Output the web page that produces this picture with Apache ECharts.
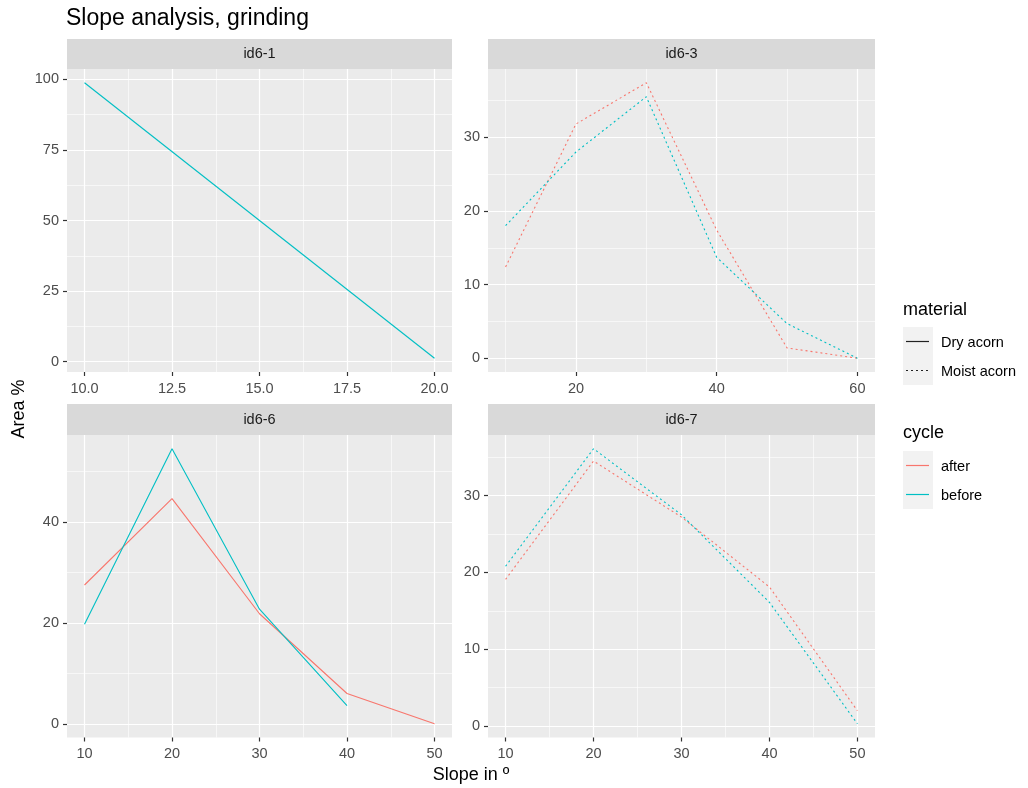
<!DOCTYPE html>
<html>
<head>
<meta charset="utf-8">
<script src="https://cdn.jsdelivr.net/npm/echarts@6/dist/echarts.min.js"></script>
<style>
html,body{margin:0;padding:0;background:#fff;}
#chart{width:1028px;height:788px;}
</style>
</head>
<body>
<div id="chart"></div>
<script>
// ---------- data ----------
const panelNames = ['id6-1', 'id6-3', 'id6-6', 'id6-7'];
const panelMaterial = ['Dry acorn', 'Moist acorn', 'Dry acorn', 'Moist acorn'];

const x_id61 = [10, 20];
const after_id61 = [];
const before_id61 = [98.8, 1.2];

const x_id63 = [10, 20, 30, 40, 50, 60];
const after_id63 = [12.4, 31.8, 37.4, 17.4, 1.4, 0];
const before_id63 = [18.0, 28.0, 35.5, 13.7, 4.7, 0];

const x_id66 = [10, 20, 30, 40, 50];
const after_id66 = [27.5, 44.6, 21.8, 6.0, 0];
const before_id66 = [19.7, 54.5, 22.7, 3.6];

const x_id67 = [10, 20, 30, 40, 50];
const after_id67 = [19.1, 34.5, 27.2, 18.1, 2.0];
const before_id67 = [20.8, 36.1, 27.5, 16.1, 0.3];

// tick labels / breaks
const xTicks_id61 = [10, 12.5, 15, 17.5, 20];
const xMinor_id61 = [11.25, 13.75, 16.25, 18.75];
const yTicks_id61 = [0, 25, 50, 75, 100];
const yMinor_id61 = [12.5, 37.5, 62.5, 87.5];

const xTicks_id63 = [20, 40, 60];
const xMinor_id63 = [10, 30, 50];
const yTicks_id63 = [0, 10, 20, 30];
const yMinor_id63 = [5, 15, 25, 35];

const xTicks_id66 = [10, 20, 30, 40, 50];
const xMinor_id66 = [15, 25, 35, 45];
const yTicks_id66 = [0, 20, 40];
const yMinor_id66 = [10, 30, 50];

const xTicks_id67 = [10, 20, 30, 40, 50];
const xMinor_id67 = [15, 25, 35, 45];
const yTicks_id67 = [0, 10, 20, 30];
const yMinor_id67 = [5, 15, 25, 35];

const xDecimals = [1, 0, 0, 0];

// ---------- layout / style ----------
const FONT = "'Liberation Sans', Arial, Helvetica, sans-serif";
const COL_AFTER = '#F8766D';
const COL_BEFORE = '#00BFC4';
const panelBoxes = [
  {left: 67, top: 69, width: 385, height: 303, stripTop: 39},
  {left: 488, top: 69, width: 387, height: 303, stripTop: 39},
  {left: 67, top: 435, width: 385, height: 302.5, stripTop: 404},
  {left: 488, top: 435, width: 387, height: 302.5, stripTop: 404}
];

const panels = [
  {x: x_id61, after: after_id61, before: before_id61, xt: xTicks_id61, xm: xMinor_id61, yt: yTicks_id61, ym: yMinor_id61},
  {x: x_id63, after: after_id63, before: before_id63, xt: xTicks_id63, xm: xMinor_id63, yt: yTicks_id63, ym: yMinor_id63},
  {x: x_id66, after: after_id66, before: before_id66, xt: xTicks_id66, xm: xMinor_id66, yt: yTicks_id66, ym: yMinor_id66},
  {x: x_id67, after: after_id67, before: before_id67, xt: xTicks_id67, xm: xMinor_id67, yt: yTicks_id67, ym: yMinor_id67}
];

function expandRange(vals) {
  const mn = Math.min(...vals), mx = Math.max(...vals);
  const pad = (mx - mn) * 0.05;
  return [mn - pad, mx + pad];
}

const grids = [], xAxes = [], yAxes = [], series = [], graphics = [];

panels.forEach((p, i) => {
  const b = panelBoxes[i];
  grids.push({left: b.left, top: b.top, width: b.width, height: b.height,
    show: true, backgroundColor: '#EBEBEB', borderWidth: 0, containLabel: false, outerBoundsMode: 'none'});
  const xr = expandRange(p.x);
  const yr = expandRange(p.after.concat(p.before));
  const dec = xDecimals[i];
  // major x
  xAxes.push({
    type: 'value', gridIndex: i, min: xr[0], max: xr[1], position: 'bottom',
    axisLine: {show: false, onZero: false},
    axisTick: {show: true, inside: false, length: 4, customValues: p.xt, lineStyle: {color: '#333333', width: 1.2}},
    axisLabel: {show: true, inside: false, customValues: p.xt, margin: 9, color: '#4D4D4D', fontSize: 14.5, fontFamily: FONT,
      formatter: v => Number(v).toFixed(dec)},
    splitLine: {show: true, lineStyle: {color: '#FFFFFF', width: 1.2}},
    minorSplitLine: {show: false}
  });
  // minor x
  xAxes.push({
    type: 'value', gridIndex: i, min: xr[0], max: xr[1], position: 'top',
    axisLine: {show: false, onZero: false},
    axisTick: {show: false, customValues: p.xm},
    axisLabel: {show: false, customValues: p.xm},
    splitLine: {show: true, lineStyle: {color: '#FFFFFF', width: 0.6}}
  });
  // major y
  yAxes.push({
    type: 'value', gridIndex: i, min: yr[0], max: yr[1], position: 'left',
    axisLine: {show: false, onZero: false},
    axisTick: {show: true, inside: false, length: 4, customValues: p.yt, lineStyle: {color: '#333333', width: 1.2}},
    axisLabel: {show: true, inside: false, customValues: p.yt, margin: 8, color: '#4D4D4D', fontSize: 14.5, fontFamily: FONT},
    splitLine: {show: true, lineStyle: {color: '#FFFFFF', width: 1.2}}
  });
  // minor y
  yAxes.push({
    type: 'value', gridIndex: i, min: yr[0], max: yr[1], position: 'right',
    axisLine: {show: false, onZero: false},
    axisTick: {show: false, customValues: p.ym},
    axisLabel: {show: false, customValues: p.ym},
    splitLine: {show: true, lineStyle: {color: '#FFFFFF', width: 0.6}}
  });

  const dotted = panelMaterial[i] === 'Moist acorn';
  const lt = dotted ? [2, 3] : 'solid';
  [['after', p.after, COL_AFTER], ['before', p.before, COL_BEFORE]].forEach(([name, vals, col]) => {
    if (!vals.length) return;
    series.push({
      type: 'line', name: name, xAxisIndex: i * 2, yAxisIndex: i * 2,
      data: vals.map((v, k) => [p.x[k], v]),
      showSymbol: false, symbol: 'none', silent: true, animation: false,
      lineStyle: {color: col, width: 1.1, type: lt},
      itemStyle: {color: col}, z: 5
    });
  });

  // strip
  graphics.push({type: 'rect', shape: {x: b.left, y: b.stripTop, width: b.width, height: b.top - b.stripTop},
    style: {fill: '#D9D9D9'}, silent: true});
  graphics.push({type: 'text', x: b.left + b.width / 2, y: (b.stripTop + b.top) / 2,
    style: {text: panelNames[i], fill: '#1A1A1A', font: '14.5px ' + FONT, textAlign: 'center', textVerticalAlign: 'middle'},
    silent: true});
});

// axis titles
graphics.push({type: 'text', x: 19, y: 409, rotation: Math.PI / 2,
  style: {text: 'Area %', fill: '#000', font: '18px ' + FONT, textAlign: 'center', textVerticalAlign: 'middle'}});
graphics.push({type: 'text', x: 471, y: 775,
  style: {text: 'Slope in º', fill: '#000', font: '18px ' + FONT, textAlign: 'center', textVerticalAlign: 'middle'}});

// legends
function legendBlock(title, titleY, boxY, items) {
  graphics.push({type: 'text', x: 903, y: titleY,
    style: {text: title, fill: '#000', font: '18px ' + FONT, textAlign: 'left', textVerticalAlign: 'middle'}});
  graphics.push({type: 'rect', shape: {x: 903, y: boxY, width: 30, height: 29 * items.length},
    style: {fill: '#F2F2F2'}});
  items.forEach((it, k) => {
    const cy = boxY + 14.5 + 29 * k;
    graphics.push({type: 'line', shape: {x1: 906, y1: cy, x2: 929, y2: cy},
      style: {stroke: it.color, lineWidth: 1.2, lineDash: it.dash || null}});
    graphics.push({type: 'text', x: 941, y: cy + 1,
      style: {text: it.label, fill: '#000', font: '14.5px ' + FONT, textAlign: 'left', textVerticalAlign: 'middle'}});
  });
}
legendBlock('material', 310, 327, [
  {label: 'Dry acorn', color: '#222222'},
  {label: 'Moist acorn', color: '#222222', dash: [2, 3]}
]);
legendBlock('cycle', 433, 451, [
  {label: 'after', color: COL_AFTER},
  {label: 'before', color: COL_BEFORE}
]);

const chart = echarts.init(document.getElementById('chart'), null, {renderer: 'canvas'});
chart.setOption({
  animation: false,
  backgroundColor: '#FFFFFF',
  title: {text: 'Slope analysis, grinding', left: 66, top: 7, padding: 0,
    textStyle: {fontSize: 23, fontWeight: 'normal', color: '#000', fontFamily: FONT}},
  grid: grids,
  xAxis: xAxes,
  yAxis: yAxes,
  series: series,
  graphic: graphics
});
</script>
</body>
</html>
